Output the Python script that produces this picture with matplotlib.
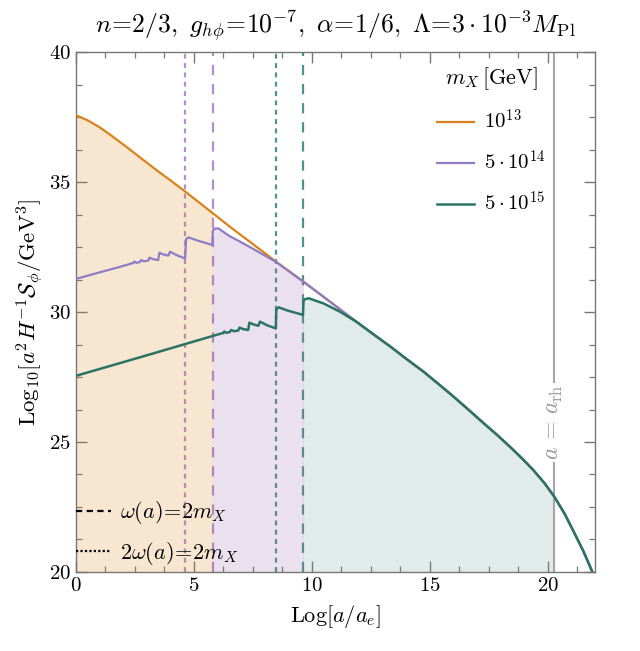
import matplotlib
matplotlib.use("Agg")
import matplotlib.pyplot as plt
from matplotlib.lines import Line2D
from matplotlib.ticker import MultipleLocator
import numpy as np

plt.rcParams['font.family'] = 'cmr10'
plt.rcParams['mathtext.fontset'] = 'cm'
plt.rcParams['axes.formatter.use_mathtext'] = True

# curve data: x = Log[a/a_e], y = Log10[a^2 H^-1 S_phi / GeV^3]
x_tail = [11.9, 12.6, 13.33, 14.0, 14.74, 15.3, 15.87, 16.6, 17.28, 17.85, 18.41, 18.9, 19.4,
          19.85, 20.25, 20.7, 21.09, 21.5, 21.87, 22.0]
y_tail = [29.62, 29.15, 28.67, 28.2, 27.7, 27.28, 26.85, 26.27, 25.72, 25.27, 24.8, 24.37, 23.9,
          23.42, 22.92, 22.25, 21.55, 20.8, 20.02, 19.75]

x_orange = [0.0, 0.5, 1.0, 1.5, 2.0, 2.5, 3.0, 3.5, 4.0, 4.65, 5.8, 6.55, 7.5, 8.5,
            9.65, 10.5] + x_tail
y_orange = [37.58, 37.38, 37.12, 36.8, 36.46, 36.11, 35.76, 35.41, 35.08, 34.63, 33.81, 33.27, 32.62, 31.93,
            31.17, 30.59] + y_tail

x_purple = [0.0, 1.0, 1.89, 2.38, 2.45, 2.48, 2.59, 2.72, 2.78, 2.9, 3.08, 3.13, 3.3, 3.5, 3.55,
            3.7, 3.93, 4.0, 4.3, 4.64, 4.68, 4.78, 5.2, 5.79, 5.81, 5.86, 6.05, 6.5, 7.0, 7.5,
            8.0, 8.5, 9.65, 10.5] + x_tail
y_purple = [31.27, 31.52, 31.74, 31.87, 31.88, 31.94, 31.89, 31.92, 32.0, 31.95, 31.98, 32.09, 32.03, 32.0, 32.28,
            32.22, 32.17, 32.32, 32.18, 32.06, 32.8, 32.87, 32.74, 32.58, 33.1, 33.2, 33.22, 32.93, 32.69, 32.44,
            32.18, 31.92, 31.16, 30.58] + y_tail

x_green = [0.0, 3.0, 5.7, 6.19, 6.26, 6.29, 6.4, 6.53, 6.59, 6.71, 6.89, 6.94, 7.11, 7.31, 7.36,
           7.51, 7.74, 7.81, 8.11, 8.48, 8.5, 8.6, 9.0, 9.63, 9.65, 9.7, 9.87, 10.5, 11.2] + x_tail
y_green = [27.54, 28.33, 29.05, 29.18, 29.19, 29.25, 29.2, 29.23, 29.31, 29.26, 29.29, 29.4, 29.34, 29.31, 29.59,
           29.53, 29.47, 29.63, 29.49, 29.37, 30.11, 30.18, 30.05, 29.89, 30.41, 30.49, 30.53, 30.33, 30.01] + y_tail

# where 2w(a)=2m_X (dotted) and w(a)=2m_X (dashed)
purple_dotted = 4.65
purple_dashed = 5.8
green_dotted = 8.5
green_dashed = 9.65
a_rh = 20.25

labels = [r'$10^{13}$', r'$5\cdot10^{14}$', r'$5\cdot10^{15}$']

c_orange = '#D9821C'
c_purple = '#8E7CC6'
c_green = '#2A7464'
c_vpurple = '#A47CC8'
c_vgreen = '#2F8272'

xo, yo = np.array(x_orange), np.array(y_orange)
xp, yp = np.array(x_purple), np.array(y_purple)
xg, yg = np.array(x_green), np.array(y_green)

fig = plt.figure(figsize=(6.4, 6.51), dpi=100)
ax = fig.add_axes([0.118, 0.1214, 0.812, 0.7986])

# threshold lines
ax.axvline(purple_dotted, color=c_vpurple, lw=1.6, ls=(0, (2.2, 2.0)), alpha=0.85, zorder=1)
ax.axvline(purple_dashed, color=c_vpurple, lw=1.6, ls=(0, (4.6, 4.0)), alpha=0.85, zorder=1)
ax.axvline(green_dotted, color=c_vgreen, lw=1.6, ls=(0, (2.2, 2.0)), alpha=0.85, zorder=1)
ax.axvline(green_dashed, color=c_vgreen, lw=1.6, ls=(0, (4.6, 4.0)), alpha=0.85, zorder=1)

# filled regions under each curve
ax.fill_between(xo, yo, 20, where=xo <= purple_dashed, color='#D98516', alpha=0.2, lw=0, zorder=2)
ax.fill_between(xp, yp, 20, where=(xp >= 5.79) & (xp <= green_dashed), color='#9B64AA', alpha=0.2, lw=0, zorder=2)
ax.fill_between(xg, yg, 20, where=(xg >= 9.63) & (xg <= a_rh), color='#699B91', alpha=0.2, lw=0, zorder=2)

# reheating line
ax.axvline(a_rh, color='#A6A6A6', lw=1.5, zorder=2.5)
ax.text(a_rh, 25.75, r'$a\,=\,a_{\rm rh}$', rotation=90, color='#9A9A9A', fontsize=17,
        ha='center', va='center', zorder=2.6,
        bbox=dict(facecolor='white', edgecolor='none', pad=1.0))

l1, = ax.plot(xo, yo, color=c_orange, lw=1.6, zorder=3)
l2, = ax.plot(xp, yp, color=c_purple, lw=1.6, zorder=3.1)
l3, = ax.plot(xg, yg, color=c_green, lw=1.8, zorder=3.2)

ax.set_xlim(0, 22)
ax.set_ylim(20, 40)
ax.xaxis.set_major_locator(MultipleLocator(5))
ax.xaxis.set_minor_locator(MultipleLocator(1.25))
ax.yaxis.set_major_locator(MultipleLocator(5))
ax.yaxis.set_minor_locator(MultipleLocator(1.25))
ax.tick_params(which='both', direction='in', top=True, right=True, color='#777777', labelsize=15)
ax.tick_params(which='major', length=8, width=1)
ax.tick_params(which='minor', length=4.5, width=0.9)
for s in ax.spines.values():
    s.set_color('#777777')
    s.set_linewidth(1.0)

ax.set_xlabel(r'$\mathrm{Log}[a/a_e]$', fontsize=16, labelpad=6)
ax.set_ylabel(r'$\mathrm{Log}_{10}[a^2H^{-1}\mathcal{S}_\phi/\mathrm{GeV}^3]$', fontsize=16.5, labelpad=2)
ax.set_title(r'$n\!=\!2/3,\ g_{h\phi}\!=\!10^{-7},\ \alpha\!=\!1/6,\ \Lambda\!=\!3\cdot10^{-3}M_{\rm Pl}$',
             fontsize=18.5, pad=13)

leg1 = ax.legend([l1, l2, l3], labels, title=r'$m_X\,[\mathrm{GeV}]$', loc='upper right',
                 bbox_to_anchor=(0.92, 0.99), frameon=False, fontsize=15, title_fontsize=16,
                 handlelength=1.8, handletextpad=0.45, labelspacing=0.8, borderaxespad=0)
ax.add_artist(leg1)

h_dash = Line2D([], [], color='black', lw=1.6, ls=(0, (2.8, 2.0)))
h_dot = Line2D([], [], color='black', lw=1.6, ls=(0, (1.0, 1.0)))
ax.legend([h_dash, h_dot], [r'$\omega(a)\!=\!2m_X$', r'$2\omega(a)\!=\!2m_X$'], loc='lower left',
          bbox_to_anchor=(0.0, 0.01), frameon=False, fontsize=16, handlelength=1.6,
          handletextpad=0.4, labelspacing=0.6, borderaxespad=0, borderpad=0)

fig.savefig('out.png', dpi=100)
